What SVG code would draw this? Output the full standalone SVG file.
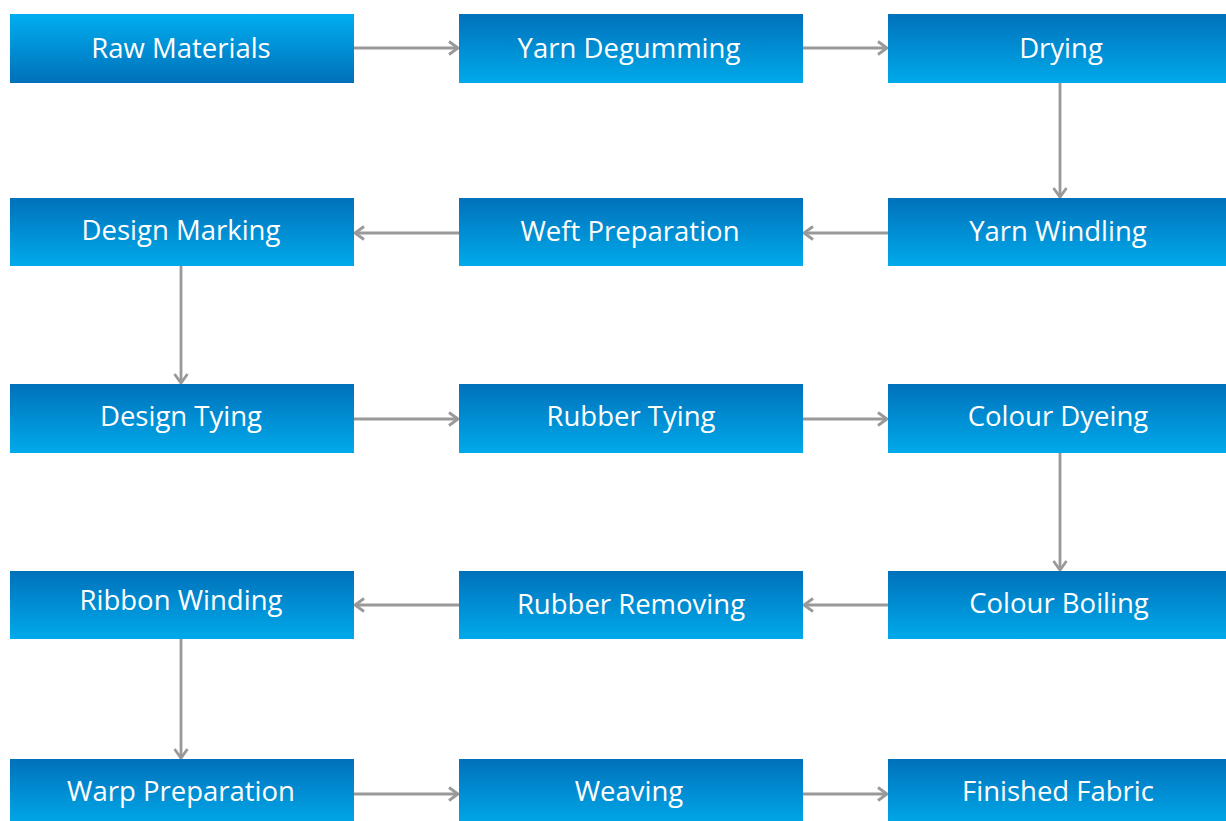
<svg xmlns="http://www.w3.org/2000/svg" width="1226" height="821" viewBox="0 0 1226 821">
<defs>
<linearGradient id="gDown" x1="0" y1="0" x2="0" y2="1">
<stop offset="0" stop-color="#0071BB"/>
<stop offset="1" stop-color="#00AAEA"/>
</linearGradient>
<linearGradient id="gUp" x1="0" y1="0" x2="0" y2="1">
<stop offset="0" stop-color="#00AEEF"/>
<stop offset="1" stop-color="#0070BA"/>
</linearGradient>
<marker id="arr" markerWidth="16" markerHeight="16" refX="11" refY="8" orient="auto" markerUnits="userSpaceOnUse">
<path d="M2,1.5 L11,8 L2,14.5" fill="none" stroke="#999999" stroke-width="2.8"/>
</marker>
</defs>
<style>
.box{fill:url(#gDown);}
.boxUp{fill:url(#gUp);}
.lbl{font-family:"Open Sans","Noto Sans",sans-serif;font-size:27.5px;fill:#ffffff;text-anchor:middle;}
.c{fill:none;stroke:#999999;stroke-width:2.8;marker-end:url(#arr);}
</style>
<rect width="1226" height="821" fill="#ffffff"/>
<g id="connectors">
<line class="c" x1="354" y1="48" x2="458" y2="48"/>
<line class="c" x1="803" y1="48" x2="887" y2="48"/>
<line class="c" x1="1060" y1="83" x2="1060" y2="197"/>
<line class="c" x1="888" y1="233" x2="804" y2="233"/>
<line class="c" x1="459" y1="233" x2="355" y2="233"/>
<line class="c" x1="181" y1="266" x2="181" y2="383"/>
<line class="c" x1="354" y1="419" x2="458" y2="419"/>
<line class="c" x1="803" y1="419" x2="887" y2="419"/>
<line class="c" x1="1060" y1="453" x2="1060" y2="570"/>
<line class="c" x1="888" y1="605" x2="804" y2="605"/>
<line class="c" x1="459" y1="605" x2="355" y2="605"/>
<line class="c" x1="181" y1="639" x2="181" y2="758"/>
<line class="c" x1="354" y1="794" x2="458" y2="794"/>
<line class="c" x1="803" y1="794" x2="887" y2="794"/>
</g>
<g id="raw-materials"><rect class="boxUp" x="10" y="14" width="344" height="69"/><text class="lbl" x="181" y="58">Raw Materials</text></g>
<g id="yarn-degumming"><rect class="box" x="459" y="14" width="344" height="69"/><text class="lbl" x="629" y="58">Yarn Degumming</text></g>
<g id="drying"><rect class="box" x="888" y="14" width="344" height="69"/><text class="lbl" x="1061" y="58">Drying</text></g>
<g id="design-marking"><rect class="box" x="10" y="198" width="344" height="68"/><text class="lbl" x="181" y="240">Design Marking</text></g>
<g id="weft-preparation"><rect class="box" x="459" y="198" width="344" height="68"/><text class="lbl" x="630" y="241">Weft Preparation</text></g>
<g id="yarn-windling"><rect class="box" x="888" y="198" width="344" height="68"/><text class="lbl" x="1058" y="241">Yarn Windling</text></g>
<g id="design-tying"><rect class="box" x="10" y="384" width="344" height="69"/><text class="lbl" x="181" y="426">Design Tying</text></g>
<g id="rubber-tying"><rect class="box" x="459" y="384" width="344" height="69"/><text class="lbl" x="631" y="426">Rubber Tying</text></g>
<g id="colour-dyeing"><rect class="box" x="888" y="384" width="344" height="69"/><text class="lbl" x="1058" y="426">Colour Dyeing</text></g>
<g id="ribbon-winding"><rect class="box" x="10" y="571" width="344" height="68"/><text class="lbl" x="181" y="610">Ribbon Winding</text></g>
<g id="rubber-removing"><rect class="box" x="459" y="571" width="344" height="68"/><text class="lbl" x="631" y="614">Rubber Removing</text></g>
<g id="colour-boiling"><rect class="box" x="888" y="571" width="344" height="68"/><text class="lbl" x="1059" y="613">Colour Boiling</text></g>
<g id="warp-preparation"><rect class="box" x="10" y="759" width="344" height="68"/><text class="lbl" x="181" y="801">Warp Preparation</text></g>
<g id="weaving"><rect class="box" x="459" y="759" width="344" height="68"/><text class="lbl" x="629" y="801">Weaving</text></g>
<g id="finished-fabric"><rect class="box" x="888" y="759" width="344" height="68"/><text class="lbl" x="1058" y="801">Finished Fabric</text></g>
</svg>
